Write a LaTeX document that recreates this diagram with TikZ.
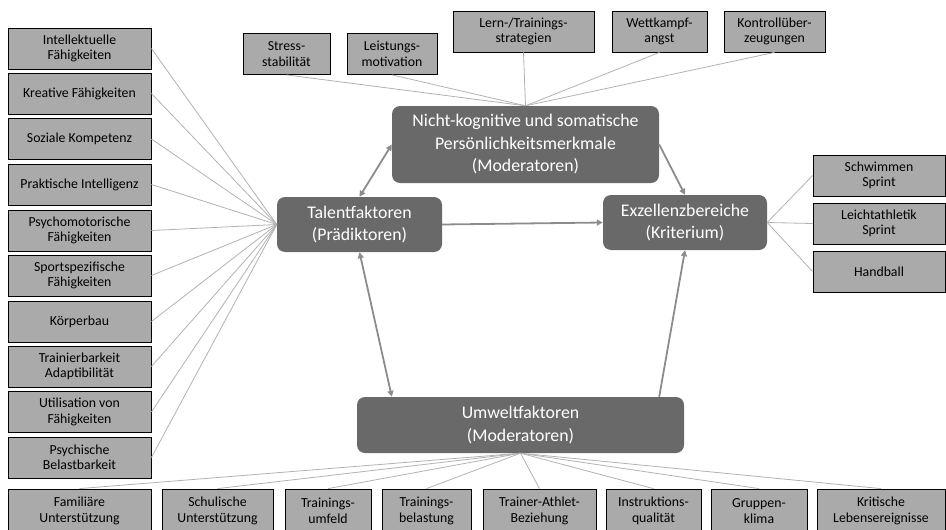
\documentclass[tikz,border=0pt]{standalone}
\usepackage{fontspec}
\setmainfont{Carlito}
\usetikzlibrary{arrows.meta, positioning, calc}
\definecolor{hubgray}{RGB}{105,105,105}
\definecolor{boxgray}{RGB}{170,170,170}
\definecolor{linegray}{RGB}{178,178,178}
\definecolor{arrowgray}{RGB}{140,140,140}
\tikzset{
    hub/.style={rectangle, rounded corners=8pt, fill=hubgray, text=white, align=center, inner sep=0pt, font=\fontsize{17.8}{22.5}\selectfont},
    item/.style={rectangle, draw=black, fill=boxgray, align=center, inner sep=0pt, line width=0.8pt, font=\fontsize{13.8}{15.5}\selectfont},
    link/.style={draw=linegray, line width=0.8pt},
    flow/.style={draw=arrowgray, line width=1.8pt, -{Triangle[length=6pt,width=6pt]}},
    biflow/.style={draw=arrowgray, line width=1.8pt, {Triangle[length=6pt,width=6pt]}-{Triangle[length=6pt,width=6pt]}}
}
\begin{document}
\begin{tikzpicture}[x=1pt, y=-1pt]
    \useasboundingbox (0,0) rectangle (946,530);
    % central factors
    \node[hub, minimum width=165pt, minimum height=55pt] (talent) at (359.5,224.5) {Talentfaktoren\\(Prädiktoren)};
    \node[hub, minimum width=267pt, minimum height=77pt] (moder) at (525.5,144.5) {Nicht-kognitive und somatische\\Persönlichkeitsmerkmale\\(Moderatoren)};
    \node[hub, minimum width=164pt, minimum height=55pt] (exzell) at (685,222.5) {Exzellenzbereiche\\(Kriterium)};
    \node[hub, minimum width=327pt, minimum height=56pt] (umwelt) at (520.5,425) {Umweltfaktoren\\(Moderatoren)};
    % talent items (left)
    \foreach \i/\yy/\txt in {1/48.5/{Intellektuelle\\Fähigkeiten}, 2/93.5/{Kreative Fähigkeiten}, 3/139/{Soziale Kompetenz}, 4/184.5/{Praktische Intelligenz}, 5/230.5/{Psychomotorische\\Fähigkeiten}, 6/275.5/{Sportspezifische\\Fähigkeiten}, 7/321.5/{Körperbau}, 8/366.5/{Trainierbarkeit\\Adaptibilität}, 9/412/{Utilisation von\\Fähigkeiten}, 10/457.5/{Psychische\\Belastbarkeit}}
        \node[item, minimum width=143pt, minimum height=41pt] (tal\i) at (79.5,\yy) {\txt};
    % moderator items (top)
    \foreach \i/\xx/\yy/\ww/\txt in {1/286.5/54/87/{Stress-\\stabilität}, 2/392/54/90/{Leistungs-\\motivation}, 3/523.5/31.5/141/{Lern-/Trainings-\\strategien}, 4/659.5/31.5/95/{Wettkampf-\\angst}, 5/774.5/31.5/101/{Kontrollüber-\\zeugungen}}
        \node[item, minimum width=\ww pt, minimum height=41pt] (mod\i) at (\xx,\yy) {\txt};
    % excellence items (right)
    \foreach \i/\yy/\txt in {1/175.5/{Schwimmen\\Sprint}, 2/223.5/{Leichtathletik\\Sprint}, 3/271.5/{Handball}}
        \node[item, minimum width=132pt, minimum height=41pt] (exz\i) at (879,\yy) {\txt};
    % environment items (bottom)
    \foreach \i/\xx/\ww/\txt in {1/79.5/143/{Familiäre\\Unterstützung}, 2/217.5/111/{Schulische\\Unterstützung}, 3/328/86/{Trainings-\\umfeld}, 4/426.5/89/{Trainings-\\belastung}, 5/539.5/113/{Trainer-Athlet-\\Beziehung}, 6/653.5/95/{Instruktions-\\qualität}, 7/759/96/{Gruppen-\\klima}, 8/881/128/{Kritische\\Lebensereignisse}}
        \node[item, minimum width=\ww pt, minimum height=44pt] (umw\i) at (\xx,511) {\txt};
    % thin links
    \foreach \i in {1,...,10} \draw[link] (tal\i.east) -- (talent.west);
    \foreach \i in {1,...,5} \draw[link] (mod\i.south) -- (moder.north);
    \foreach \i in {1,...,3} \draw[link] (exzell.east) -- (exz\i.west);
    \foreach \i in {1,...,8} \draw[link] (umwelt.south) -- (umw\i.north);
    % relations
    \draw[biflow] (talent.north) -- (moder.west);
    \draw[flow] (moder.east) -- (exzell.north);
    \draw[flow] (talent.east) -- (exzell.west);
    \draw[biflow] (talent.south) -- ($(umwelt.north west)+(35,0)$);
    \draw[flow] ($(umwelt.north east)+(-25,0)$) -- (exzell.south);
\end{tikzpicture}
\end{document}
